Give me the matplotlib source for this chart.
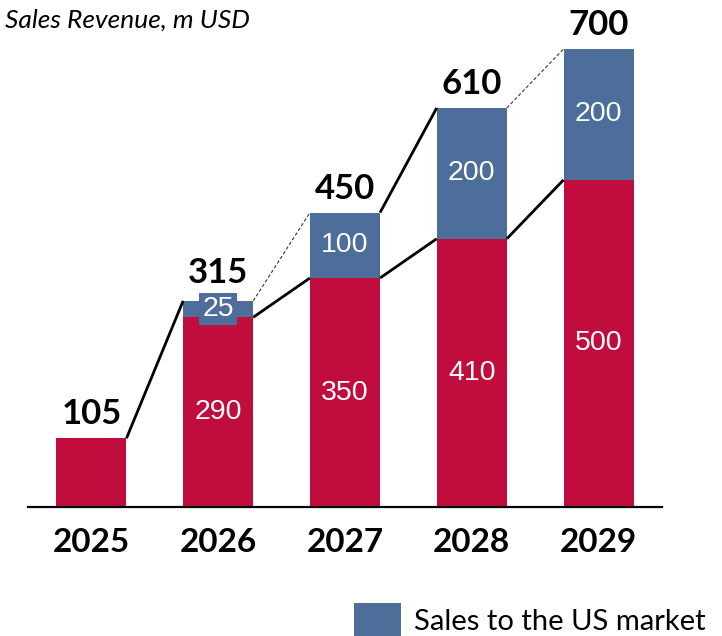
import matplotlib

matplotlib.use("Agg")
import matplotlib.pyplot as plt
import numpy as np
from matplotlib.patches import Patch

# data
years = ["2025", "2026", "2027", "2028", "2029"]
base_sales = [105, 290, 350, 410, 500]
us_sales = [0, 25, 100, 200, 200]
legend_label = "Sales to the US market"
title = "Sales Revenue, m USD"

# connector lines between neighbouring bars: (from bar, level, style)
connectors = [
    (0, "total", "solid"),
    (1, "base", "solid"),
    (1, "total", "dashed"),
    (2, "total", "solid"),
    (2, "base", "solid"),
    (3, "total", "dashed"),
    (3, "base", "solid"),
]

RED = "#C10D3D"
BLUE = "#4D6D9A"
CALIBRI_LIKE = ["Lato", "DejaVu Sans"]
ARIAL_LIKE = ["Liberation Sans", "DejaVu Sans"]

plt.rcParams["font.family"] = CALIBRI_LIKE

fig = plt.figure(figsize=(7.22, 6.36), dpi=100)
W, H = 722, 636
ax = fig.add_axes([28 / W, (H - 507) / H, (662 - 28) / W, (507 - 49) / H])

x = np.arange(len(years))
base = np.array(base_sales)
us = np.array(us_sales)
total = base + us
width = 0.553

ax.bar(x, base, width, color=RED, zorder=2)
ax.bar(x, us, width, bottom=base, color=BLUE, zorder=2)

ax.set_xlim(-0.5, len(years) - 0.5)
ax.set_ylim(0, total.max())

# white segment labels
for i in range(len(years)):
    if us[i] > 0:
        ax.text(x[i], base[i] / 2, str(base[i]), ha="center", va="center",
                color="white", fontsize=20.5, family=ARIAL_LIKE, zorder=4)
        box = None
        if us[i] < 40:
            box = dict(boxstyle="square,pad=0.12", facecolor=BLUE, edgecolor="none")
        ax.text(x[i], base[i] + us[i] / 2, str(us[i]), ha="center", va="center",
                color="white", fontsize=20.5, family=ARIAL_LIKE, bbox=box, zorder=4)

# totals on top
for i in range(len(years)):
    lift = 13 if us[i] and us[i] < 40 else 10
    ax.annotate(str(total[i]), (x[i], total[i]), xytext=(0, lift),
                textcoords="offset points", ha="center", va="baseline",
                fontsize=25, fontweight="bold", annotation_clip=False)

# connectors
for i, level, style in connectors:
    y0 = total[i] if level == "total" else base[i]
    y1 = total[i + 1] if level == "total" else base[i + 1]
    xs = [x[i] + width / 2, x[i + 1] - width / 2]
    if style == "solid":
        ax.plot(xs, [y0, y1], color="black", lw=2.0, solid_capstyle="butt",
                zorder=3, clip_on=False)
    else:
        ax.plot(xs, [y0, y1], color="#333333", lw=0.8, ls=(0, (3, 2)),
                zorder=3, clip_on=False)

ax.set_xticks(x)
ax.set_xticklabels(years, fontsize=24, fontweight="bold")
ax.tick_params(axis="x", length=0, pad=15)
ax.set_yticks([])
for side in ("left", "right", "top"):
    ax.spines[side].set_visible(False)
ax.spines["bottom"].set_linewidth(1.6)
ax.spines["bottom"].set_zorder(5)

fig.text(5 / W, 1 - 20 / H, title, ha="left", va="center", fontsize=19, style="italic")

fig.legend(handles=[Patch(facecolor=BLUE, label=legend_label)], loc="upper left",
           bbox_to_anchor=(354 / W, 1 - 603 / H), frameon=False, fontsize=21,
           borderpad=0, borderaxespad=0, handlelength=1.6, handleheight=1.45,
           handletextpad=0.45)

fig.savefig("out.png", dpi=100)
